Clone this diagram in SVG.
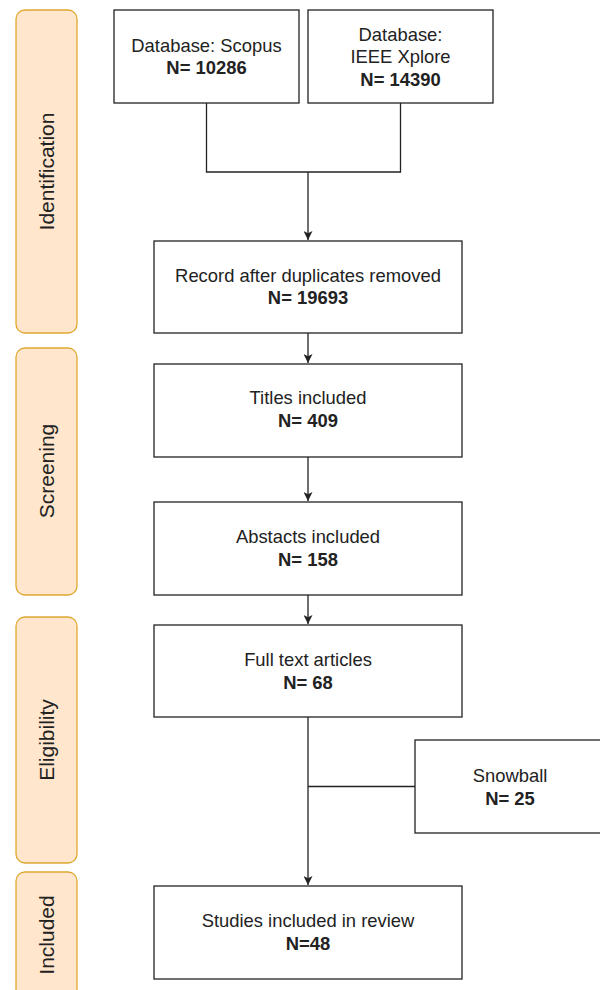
<svg xmlns="http://www.w3.org/2000/svg" width="600" height="990" viewBox="0 0 600 990">
<style>
.phase{fill:#ffe6cc;stroke:#e0a830;stroke-width:1.3}
.box{fill:#fff;stroke:#222;stroke-width:1.3}
.t{font-family:"Liberation Sans",Arial,sans-serif;font-size:18.4px;fill:#222;text-anchor:middle}
.p{font-size:21px}
.b{font-weight:bold}
.c{fill:none;stroke:#222;stroke-width:1.3}
</style>
<defs>
<marker id="arr" viewBox="0 0 10 10" refX="10" refY="5" markerWidth="10" markerHeight="9" markerUnits="userSpaceOnUse" orient="auto">
<path d="M0,0 L10,5 L0,10 L2.5,5 z" fill="#222"/>
</marker>
</defs>
<rect width="600" height="990" fill="#fff"/>
<g id="phase-identification"><rect class="phase" x="16" y="10" width="61" height="323" rx="9"/><text class="t p" transform="translate(53.5,171.5) rotate(-90)">Identification</text></g>
<g id="phase-screening"><rect class="phase" x="16" y="348" width="61" height="247" rx="9"/><text class="t p" transform="translate(53.5,471) rotate(-90)">Screening</text></g>
<g id="phase-eligibility"><rect class="phase" x="16" y="617" width="61" height="246" rx="9"/><text class="t p" transform="translate(53.5,740) rotate(-90)">Eligibility</text></g>
<g id="phase-included"><rect class="phase" x="16" y="872" width="61" height="126" rx="9"/><text class="t p" transform="translate(53.5,935) rotate(-90)">Included</text></g>
<g id="connectors">
<path class="c" d="M206.5,103 V172 H400.5 V103"/>
<path class="c" d="M308,172 V240" marker-end="url(#arr)"/>
<path class="c" d="M308,333 V363" marker-end="url(#arr)"/>
<path class="c" d="M308,457 V501" marker-end="url(#arr)"/>
<path class="c" d="M308,595 V624" marker-end="url(#arr)"/>
<path class="c" d="M308,717 V885" marker-end="url(#arr)"/>
<path class="c" d="M308,786.5 H415"/>
</g>
<g id="scopus"><rect class="box" x="114" y="10" width="185" height="93"/><text class="t" x="206.5" y="51.7">Database: Scopus</text><text class="t b" x="206.5" y="74">N= 10286</text></g>
<g id="ieee"><rect class="box" x="308" y="10" width="185" height="93"/><text class="t" x="400.5" y="40.7">Database:</text><text class="t" x="400.5" y="63.3">IEEE Xplore</text><text class="t b" x="400.5" y="85.5">N= 14390</text></g>
<g id="record"><rect class="box" x="154" y="241" width="308" height="92"/><text class="t" x="308" y="281.7">Record after duplicates removed</text><text class="t b" x="308" y="304.3">N= 19693</text></g>
<g id="titles"><rect class="box" x="154" y="364" width="308" height="93"/><text class="t" x="308" y="404">Titles included</text><text class="t b" x="308" y="426.5">N= 409</text></g>
<g id="abstracts"><rect class="box" x="154" y="502" width="308" height="93"/><text class="t" x="308" y="543.3">Abstacts included</text><text class="t b" x="308" y="566">N= 158</text></g>
<g id="fulltext"><rect class="box" x="154" y="625" width="308" height="92"/><text class="t" x="308" y="666">Full text articles</text><text class="t b" x="308" y="689.3">N= 68</text></g>
<g id="snowball"><rect class="box" x="415" y="740" width="190" height="93"/><text class="t" x="510" y="781.7">Snowball</text><text class="t b" x="510" y="805">N= 25</text></g>
<g id="studies"><rect class="box" x="154" y="886" width="308" height="93"/><text class="t" x="308" y="926.7">Studies included in review</text><text class="t b" x="308" y="950">N=48</text></g>
</svg>
